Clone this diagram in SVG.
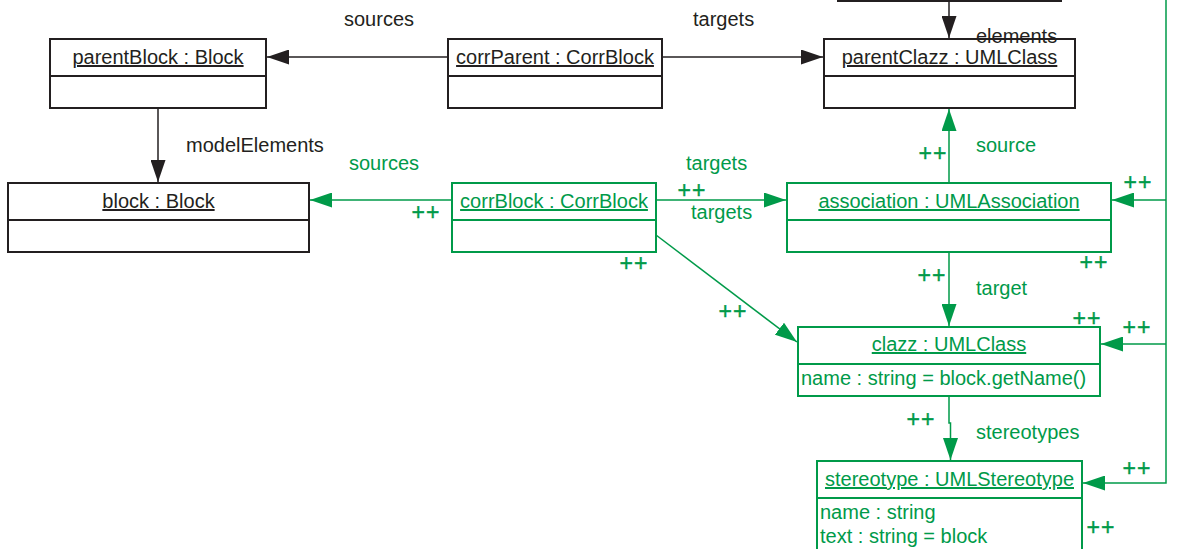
<svg xmlns="http://www.w3.org/2000/svg" width="1190" height="549" viewBox="0 0 1190 549">
<style>
text{font-family:"Liberation Sans",Arial,sans-serif;font-size:20px}
.k{fill:#231f20}
.g{fill:#009a49}
.u{text-decoration:underline}
.m{text-anchor:middle}
.pp{font-size:23px;letter-spacing:1px;fill:#009a49;stroke:#009a49;stroke-width:0.4;text-anchor:middle}
.bk{fill:#fff;stroke:#231f20;stroke-width:2}
.bg{fill:#fff;stroke:#009a49;stroke-width:2}
.dk{stroke:#231f20;stroke-width:2}
.dg{stroke:#009a49;stroke-width:2}
.ck{fill:none;stroke:#231f20;stroke-width:1.5}
.cg{fill:none;stroke:#009a49;stroke-width:1.5}
</style>
<defs>
<marker id="ak" markerUnits="userSpaceOnUse" markerWidth="23" markerHeight="15" refX="22" refY="7.5" orient="auto"><path d="M0,0 L22,7.5 L0,15 z" fill="#231f20"/></marker>
<marker id="ag" markerUnits="userSpaceOnUse" markerWidth="23" markerHeight="15" refX="22" refY="7.5" orient="auto"><path d="M0,0 L22,7.5 L0,15 z" fill="#009a49"/></marker>
</defs>
<g id="connectors">
<path class="ck" d="M448,57 L267,57" marker-end="url(#ak)"/>
<path class="ck" d="M662,57 L823,57" marker-end="url(#ak)"/>
<path class="ck" d="M158,108 L158,182" marker-end="url(#ak)"/>
<path class="ck" d="M949,1 L949,38" marker-end="url(#ak)"/>
<path class="cg" d="M452,200 L310,200" marker-end="url(#ag)"/>
<path class="cg" d="M656,200 L786,200" marker-end="url(#ag)"/>
<path class="cg" d="M949,183 L949,109" marker-end="url(#ag)"/>
<path class="cg" d="M949,252 L949,326" marker-end="url(#ag)"/>
<path class="cg" d="M656,235 L797,342" marker-end="url(#ag)"/>
<path class="cg" d="M949,396 L949,423 L950.5,423 L950.5,460" marker-end="url(#ag)"/>
<path class="cg" d="M1166,0 L1166,483 L1083,483" marker-end="url(#ag)"/>
<path class="cg" d="M1166,200 L1112,200" marker-end="url(#ag)"/>
<path class="cg" d="M1166,344 L1101,344" marker-end="url(#ag)"/>
</g>
<g id="topBox">
<rect class="bk" x="838" y="-60" width="223" height="61"/>
</g>
<g id="parentBlock">
<rect class="bk" x="50" y="39" width="216" height="69"/>
<line class="dk" x1="50" y1="76" x2="266" y2="76"/>
<text class="k u m" x="158" y="64">parentBlock : Block</text>
</g>
<g id="corrParent">
<rect class="bk" x="448" y="39" width="214" height="69"/>
<line class="dk" x1="448" y1="76" x2="662" y2="76"/>
<text class="k u m" x="555" y="64">corrParent : CorrBlock</text>
</g>
<g id="parentClazz">
<rect class="bk" x="824" y="39" width="251" height="69"/>
<line class="dk" x1="824" y1="76" x2="1075" y2="76"/>
<text class="k u m" x="949.5" y="64">parentClazz : UMLClass</text>
</g>
<g id="block">
<rect class="bk" x="8" y="183" width="301" height="69"/>
<line class="dk" x1="8" y1="220" x2="309" y2="220"/>
<text class="k u m" x="158.5" y="208">block : Block</text>
</g>
<g id="corrBlock">
<rect class="bg" x="452" y="183" width="204" height="69"/>
<line class="dg" x1="452" y1="220" x2="656" y2="220"/>
<text class="g u m" x="554" y="208">corrBlock : CorrBlock</text>
</g>
<g id="association">
<rect class="bg" x="787" y="183" width="324" height="69"/>
<line class="dg" x1="787" y1="220" x2="1111" y2="220"/>
<text class="g u m" x="949" y="208">association : UMLAssociation</text>
</g>
<g id="clazz">
<rect class="bg" x="798" y="327" width="302" height="69"/>
<line class="dg" x1="798" y1="364" x2="1100" y2="364"/>
<text class="g u m" x="949" y="351">clazz : UMLClass</text>
<text class="g" x="801" y="385">name : string = block.getName()</text>
</g>
<g id="stereotype">
<rect class="bg" x="817" y="461" width="265" height="110"/>
<line class="dg" x1="817" y1="498" x2="1082" y2="498"/>
<text class="g u m" x="949.5" y="486">stereotype : UMLStereotype</text>
<text class="g" x="820" y="519">name : string</text>
<text class="g" x="820" y="543">text : string = block</text>
</g>
<g id="labels">
<text class="k" x="344" y="26">sources</text>
<text class="k" x="693" y="26">targets</text>
<text class="k" x="186" y="152">modelElements</text>
<text class="k" x="976" y="43">elements</text>
<text class="g" x="349" y="170">sources</text>
<text class="g" x="686" y="170">targets</text>
<text class="g" x="691" y="219">targets</text>
<text class="pp" x="426" y="220">++</text>
<text class="pp" x="692" y="198">++</text>
<text class="g" x="976" y="152">source</text>
<text class="g" x="976" y="295">target</text>
<text class="g" x="976" y="439">stereotypes</text>
<text class="pp" x="634" y="271">++</text>
<text class="pp" x="933" y="161">++</text>
<text class="pp" x="1138" y="190">++</text>
<text class="pp" x="1094" y="270">++</text>
<text class="pp" x="932" y="283">++</text>
<text class="pp" x="733" y="319">++</text>
<text class="pp" x="1087" y="326">++</text>
<text class="pp" x="1137" y="335">++</text>
<text class="pp" x="921" y="427">++</text>
<text class="pp" x="1137" y="476">++</text>
<text class="pp" x="1101" y="535">++</text>
</g>
</svg>
